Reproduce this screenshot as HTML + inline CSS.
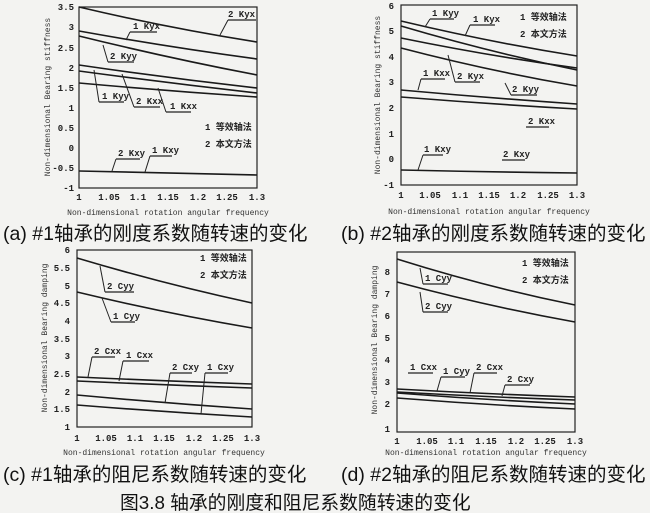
<!DOCTYPE html>
<html><head><meta charset="utf-8"><style>
html,body{margin:0;padding:0;background:#f3f3f1;}
svg{display:block}
.t{font-family:"Liberation Mono",monospace;font-size:9px;font-weight:bold;fill:#222}
.ax{font-family:"Liberation Mono",monospace;font-size:8px;fill:#333}
.cap{font-family:"Liberation Sans","Noto Sans CJK SC",sans-serif;font-size:19.5px;fill:#111}
.lg{font-family:"Liberation Mono","Noto Sans CJK SC",monospace;font-size:9px;font-weight:bold;fill:#222}
.c{fill:none;stroke:#1a1a1a;stroke-width:1.6}
.l{fill:none;stroke:#222;stroke-width:1}
.u{stroke:#222;stroke-width:1.3}
</style></head><body>
<svg width="650" height="513" viewBox="0 0 650 513">
<!-- Panel a -->
<rect x="79" y="7" width="178" height="181" fill="none" stroke="#222" stroke-width="1.2"/>
<g class="t" text-anchor="end">
<text x="74" y="10">3.5</text><text x="74" y="30">3</text><text x="74" y="51">2.5</text><text x="74" y="71">2</text><text x="74" y="91">1.5</text><text x="74" y="111">1</text><text x="74" y="131">0.5</text><text x="74" y="151">0</text><text x="74" y="171">-0.5</text><text x="74" y="191">-1</text>
</g>
<g class="t" text-anchor="middle">
<text x="79" y="200">1</text><text x="109" y="200">1.05</text><text x="138" y="200">1.1</text><text x="168" y="200">1.15</text><text x="198" y="200">1.2</text><text x="227" y="200">1.25</text><text x="257" y="200">1.3</text>
</g>
<text class="ax" x="168" y="215" text-anchor="middle">Non-dimensional rotation angular frequency</text>
<text class="ax" transform="translate(50,97) rotate(-90)" text-anchor="middle">Non-dimensional Bearing stiffness</text>
<path class="c" d="M79 7 Q168 28 257 42"/>
<path class="c" d="M79 31 Q168 47 257 59"/>
<path class="c" d="M79 36 Q168 58 257 75"/>
<path class="c" d="M79 65 Q168 78 257 88"/>
<path class="c" d="M79 71 Q168 83 257 93"/>
<path class="c" d="M79 83 Q168 91 257 97"/>
<path class="c" d="M79 171 Q168 173 257 175" stroke-width="2.5"/>
<g class="lg">
<text x="228" y="17">2 Kyx</text><line class="u" x1="228" y1="20" x2="256" y2="20"/><line class="l" x1="228" y1="20" x2="220" y2="35"/>
<text x="133" y="29">1 Kyx</text><line class="u" x1="130" y1="32" x2="157" y2="32"/><line class="l" x1="130" y1="32" x2="126" y2="40"/>
<text x="110" y="59">2 Kyy</text><line class="u" x1="108" y1="62" x2="134" y2="62"/><line class="l" x1="108" y1="62" x2="103" y2="45"/>
<text x="102" y="99">1 Kyy</text><line class="u" x1="99" y1="102" x2="124" y2="102"/><line class="l" x1="99" y1="102" x2="94" y2="70"/>
<text x="136" y="104">2 Kxx</text><line class="u" x1="134" y1="107" x2="160" y2="107"/><line class="l" x1="134" y1="107" x2="122" y2="74"/>
<text x="170" y="109">1 Kxx</text><line class="u" x1="166" y1="112" x2="191" y2="112"/><line class="l" x1="166" y1="112" x2="158" y2="88"/>
<text x="205" y="130">1 等效轴法</text>
<text x="205" y="147">2 本文方法</text>
<text x="118" y="156">2 Kxy</text><line class="u" x1="116" y1="159" x2="140" y2="159"/><line class="l" x1="116" y1="159" x2="112" y2="171"/>
<text x="152" y="153">1 Kxy</text><line class="u" x1="150" y1="156" x2="172" y2="156"/><line class="l" x1="150" y1="156" x2="145" y2="172"/>
</g>
<text class="cap" x="3" y="240">(a) #1轴承的刚度系数随转速的变化</text>

<!-- Panel b -->
<rect x="401" y="5" width="176" height="180" fill="none" stroke="#222" stroke-width="1.2"/>
<g class="t" text-anchor="end">
<text x="394" y="9">6</text><text x="394" y="34">5</text><text x="394" y="60">4</text><text x="394" y="85">3</text><text x="394" y="111">2</text><text x="394" y="137">1</text><text x="394" y="162">0</text><text x="394" y="188">-1</text>
</g>
<g class="t" text-anchor="middle">
<text x="401" y="198">1</text><text x="430" y="198">1.05</text><text x="460" y="198">1.1</text><text x="489" y="198">1.15</text><text x="518" y="198">1.2</text><text x="548" y="198">1.25</text><text x="577" y="198">1.3</text>
</g>
<text class="ax" x="489" y="214" text-anchor="middle">Non-dimensional rotation angular frequency</text>
<text class="ax" transform="translate(380,95) rotate(-90)" text-anchor="middle">Non-dimensional Bearing stiffness</text>
<path class="c" d="M401 21 Q489 42 577 56"/>
<path class="c" d="M401 26 Q489 52 577 70"/>
<path class="c" d="M401 38 Q489 56 577 68"/>
<path class="c" d="M401 48 Q489 71 577 86"/>
<path class="c" d="M401 90 Q489 98 577 104"/>
<path class="c" d="M401 97 Q489 104 577 109"/>
<path class="c" d="M401 170 Q489 172 577 173" stroke-width="2.5"/>
<g class="lg">
<text x="432" y="16">1 Kyy</text><line class="u" x1="430" y1="19" x2="454" y2="19"/><line class="l" x1="430" y1="19" x2="425" y2="27"/>
<text x="473" y="22">1 Kyx</text><line class="u" x1="470" y1="25" x2="495" y2="25"/><line class="l" x1="470" y1="25" x2="465" y2="36"/>
<text x="520" y="20">1 等效轴法</text>
<text x="520" y="37">2 本文方法</text>
<text x="423" y="76">1 Kxx</text><line class="u" x1="421" y1="79" x2="445" y2="79"/><line class="l" x1="421" y1="79" x2="418" y2="90"/>
<text x="457" y="79">2 Kyx</text><line class="u" x1="455" y1="82" x2="480" y2="82"/><line class="l" x1="455" y1="82" x2="448" y2="55"/>
<text x="512" y="92">2 Kyy</text><line class="u" x1="511" y1="95" x2="537" y2="95"/><line class="l" x1="511" y1="95" x2="505" y2="83"/>
<text x="528" y="124">2 Kxx</text><line class="u" x1="526" y1="127" x2="549" y2="127"/>
<text x="424" y="152">1 Kxy</text><line class="u" x1="423" y1="155" x2="443" y2="155"/><line class="l" x1="423" y1="155" x2="418" y2="170"/>
<text x="503" y="157">2 Kxy</text><line class="u" x1="502" y1="160" x2="525" y2="160"/>
</g>
<text class="cap" x="341" y="240">(b) #2轴承的刚度系数随转速的变化</text>

<!-- Panel c -->
<rect x="77" y="250" width="175" height="177" fill="none" stroke="#222" stroke-width="1.2"/>
<g class="t" text-anchor="end">
<text x="70" y="253">6</text><text x="70" y="271">5.5</text><text x="70" y="289">5</text><text x="70" y="306">4.5</text><text x="70" y="324">4</text><text x="70" y="342">3.5</text><text x="70" y="359">3</text><text x="70" y="377">2.5</text><text x="70" y="395">2</text><text x="70" y="412">1.5</text><text x="70" y="430">1</text>
</g>
<g class="t" text-anchor="middle">
<text x="77" y="441">1</text><text x="106" y="441">1.05</text><text x="135" y="441">1.1</text><text x="164" y="441">1.15</text><text x="194" y="441">1.2</text><text x="223" y="441">1.25</text><text x="252" y="441">1.3</text>
</g>
<text class="ax" x="164" y="455" text-anchor="middle">Non-dimensional rotation angular frequency</text>
<text class="ax" transform="translate(47,338) rotate(-90)" text-anchor="middle">Non-dimensional Bearing damping</text>
<path class="c" d="M77 258 Q164 284 252 303"/>
<path class="c" d="M77 292 Q164 313 252 328"/>
<path class="c" d="M77 377 Q164 381 252 384"/>
<path class="c" d="M77 381 Q164 385 252 388"/>
<path class="c" d="M77 395 Q164 403 252 409"/>
<path class="c" d="M77 405 Q164 412 252 417"/>
<g class="lg">
<text x="200" y="261">1 等效轴法</text>
<text x="200" y="278">2 本文方法</text>
<text x="107" y="289">2 Cyy</text><line class="u" x1="105" y1="292" x2="134" y2="292"/><line class="l" x1="105" y1="292" x2="100" y2="266"/>
<text x="113" y="319">1 Cyy</text><line class="u" x1="111" y1="322" x2="135" y2="322"/><line class="l" x1="111" y1="322" x2="102" y2="298"/>
<text x="94" y="354">2 Cxx</text><line class="u" x1="92" y1="357" x2="115" y2="357"/><line class="l" x1="92" y1="357" x2="88" y2="377"/>
<text x="126" y="358">1 Cxx</text><line class="u" x1="123" y1="361" x2="149" y2="361"/><line class="l" x1="123" y1="361" x2="119" y2="381"/>
<text x="172" y="370">2 Cxy</text><line class="u" x1="170" y1="373" x2="192" y2="373"/><line class="l" x1="170" y1="373" x2="165" y2="403"/>
<text x="207" y="370">1 Cxy</text><line class="u" x1="205" y1="373" x2="228" y2="373"/><line class="l" x1="205" y1="373" x2="201" y2="414"/>
</g>
<text class="cap" x="3" y="481">(c) #1轴承的阻尼系数随转速的变化</text>

<!-- Panel d -->
<rect x="397" y="252" width="178" height="180" fill="none" stroke="#222" stroke-width="1.2"/>
<g class="t" text-anchor="end">
<text x="390" y="275">8</text><text x="390" y="297">7</text><text x="390" y="319">6</text><text x="390" y="341">5</text><text x="390" y="363">4</text><text x="390" y="385">3</text><text x="390" y="407">2</text><text x="390" y="432">1</text>
</g>
<g class="t" text-anchor="middle">
<text x="397" y="444">1</text><text x="427" y="444">1.05</text><text x="456" y="444">1.1</text><text x="486" y="444">1.15</text><text x="516" y="444">1.2</text><text x="545" y="444">1.25</text><text x="575" y="444">1.3</text>
</g>
<text class="ax" x="486" y="455" text-anchor="middle">Non-dimensional rotation angular frequency</text>
<text class="ax" transform="translate(377,340) rotate(-90)" text-anchor="middle">Non-dimensional Bearing damping</text>
<path class="c" d="M397 259 Q486 287 575 305"/>
<path class="c" d="M397 282 Q486 306 575 322"/>
<path class="c" d="M397 389 Q486 394 575 397"/>
<path class="c" d="M397 392 Q486 397 575 400"/>
<path class="c" d="M397 393 Q486 400 575 404"/>
<path class="c" d="M397 398 Q486 405 575 409"/>
<g class="lg">
<text x="522" y="266">1 等效轴法</text>
<text x="522" y="283">2 本文方法</text>
<text x="425" y="281">1 Cyy</text><line class="u" x1="423" y1="284" x2="448" y2="284"/><line class="l" x1="423" y1="284" x2="420" y2="268"/>
<text x="425" y="309">2 Cyy</text><line class="u" x1="423" y1="312" x2="448" y2="312"/><line class="l" x1="423" y1="312" x2="420" y2="292"/>
<text x="410" y="370">1 Cxx</text><line class="u" x1="408" y1="373" x2="433" y2="373"/>
<text x="443" y="374">1 Cyy</text><line class="u" x1="441" y1="377" x2="465" y2="377"/><line class="l" x1="441" y1="377" x2="437" y2="391"/>
<text x="476" y="370">2 Cxx</text><line class="u" x1="474" y1="373" x2="497" y2="373"/><line class="l" x1="474" y1="373" x2="470" y2="393"/>
<text x="507" y="382">2 Cxy</text><line class="u" x1="505" y1="385" x2="530" y2="385"/><line class="l" x1="505" y1="385" x2="502" y2="396"/>
</g>
<text class="cap" x="341" y="481">(d) #2轴承的阻尼系数随转速的变化</text>

<text class="cap" x="120" y="509" style="font-size:18.8px">图3.8 轴承的刚度和阻尼系数随转速的变化</text>
</svg>
</body></html>
